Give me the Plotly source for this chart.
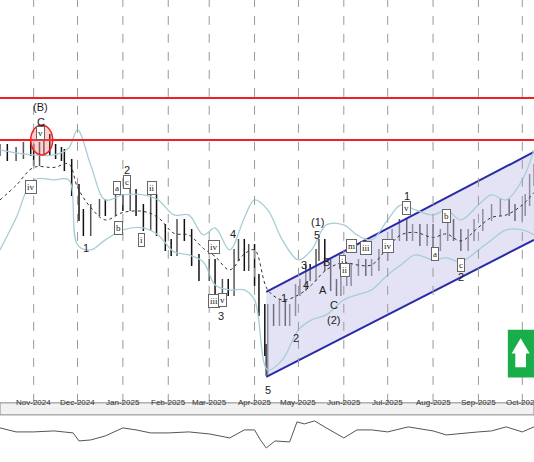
import plotly.graph_objects as go
import pandas as pd

# price path (value = chart units)
dates = ["2024-10-09","2024-10-14","2024-10-20","2024-10-25","2024-10-30","2024-11-01","2024-11-05","2024-11-08","2024-11-12","2024-11-16","2024-11-20","2024-11-22","2024-11-27","2024-12-02","2024-12-05","2024-12-10","2024-12-16","2024-12-20","2024-12-27","2025-01-01","2025-01-06","2025-01-10","2025-01-15","2025-01-20","2025-01-24","2025-01-30","2025-02-03","2025-02-07","2025-02-12","2025-02-17","2025-02-22","2025-03-01","2025-03-05","2025-03-10","2025-03-14","2025-03-18","2025-03-21","2025-03-25","2025-03-28","2025-04-01","2025-04-04","2025-04-08","2025-04-09","2025-04-10","2025-04-14","2025-04-18","2025-04-22","2025-04-25","2025-04-29","2025-05-02","2025-05-06","2025-05-09","2025-05-13","2025-05-15","2025-05-19","2025-05-23","2025-05-27","2025-05-30","2025-06-03","2025-06-06","2025-06-11","2025-06-16","2025-06-20","2025-06-25","2025-07-01","2025-07-04","2025-07-09","2025-07-14","2025-07-18","2025-07-23","2025-07-28","2025-08-01","2025-08-06","2025-08-11","2025-08-15","2025-08-20","2025-08-25","2025-08-29","2025-09-04","2025-09-10","2025-09-16","2025-09-22","2025-09-26","2025-10-01","2025-10-03","2025-10-06","2025-10-09"]
close = [253,248,250,255,253,243,255,263,253,250,248,238,213,188,173,193,198,193,203,198,208,193,178,203,173,158,153,178,168,143,128,138,103,118,113,148,158,138,153,123,93,53,33,93,83,98,83,93,113,118,133,128,148,158,138,118,113,123,123,133,138,133,138,148,158,168,178,168,173,163,173,158,168,178,168,158,168,178,188,193,198,193,188,193,203,223,233]

band_dates = ["2024-10-09","2024-10-20","2024-11-01","2024-11-15","2024-11-25","2024-12-01","2024-12-10","2024-12-20","2025-01-01","2025-01-15","2025-01-25","2025-02-05","2025-02-15","2025-02-25","2025-03-05","2025-03-15","2025-03-25","2025-04-01","2025-04-10","2025-04-20","2025-05-01","2025-05-10","2025-05-20","2025-06-01","2025-06-10","2025-06-20","2025-07-01","2025-07-10","2025-07-20","2025-08-01","2025-08-10","2025-08-20","2025-09-01","2025-09-10","2025-09-20","2025-10-01","2025-10-09"]
upper = [253,250,248,248,255,273,238,203,208,208,203,188,188,168,175,153,185,203,193,163,143,153,178,178,168,163,183,198,193,188,193,183,198,208,203,223,253]
lower = [153,185,223,223,223,158,153,163,173,175,168,151,148,141,118,113,113,103,33,43,73,83,88,103,108,113,128,138,148,143,145,141,153,163,173,173,168]
middle = [(u + l) / 2 for u, l in zip(upper, lower)]

ind_dates = ["2024-10-09","2024-10-20","2024-11-01","2024-11-15","2024-11-28","2024-12-02","2024-12-10","2024-12-20","2025-01-01","2025-01-10","2025-01-20","2025-02-01","2025-02-15","2025-03-01","2025-03-15","2025-03-25","2025-04-01","2025-04-05","2025-04-09","2025-04-15","2025-04-25","2025-04-30","2025-05-05","2025-05-12","2025-05-20","2025-06-01","2025-06-10","2025-06-20","2025-07-01","2025-07-15","2025-08-01","2025-08-10","2025-09-01","2025-09-10","2025-09-20","2025-10-01","2025-10-09"]
ind = [34,30,30,31,29,21,22,26,34,32,29,29,30,28,24,32,32,22,14,21,20,40,38,41,34,24,32,32,30,35,31,27,30,31,35,30,35]

months = ["2024-11-01","2024-12-01","2025-01-01","2025-02-01","2025-03-01","2025-04-01","2025-05-01","2025-06-01","2025-07-01","2025-08-01","2025-09-01","2025-10-01"]
month_labels = ["Nov-2024","Dec-2024","Jan-2025","Feb-2025","Mar-2025","Apr-2025","May-2025","Jun-2025","Jul-2025","Aug-2025","Sep-2025","Oct-2025"]

resist = [305, 263]
chan_x = ["2025-04-09", "2025-10-09"]
chan_up = [111, 251]
chan_lo = [26, 163]

wave_labels = [("(B)","2024-11-06",296,False),("C","2024-11-06",281,False),("v","2024-11-06",270,True),
    ("iv","2024-10-30",216,True),("1","2024-12-07",155,False),("a","2024-12-28",215,True),("2","2025-01-04",233,False),
    ("c","2025-01-04",221,True),("b","2024-12-29",175,True),("ii","2025-01-21",215,True),("i","2025-01-14",163,True),
    ("iv","2025-03-04",156,True),("4","2025-03-17",169,False),("iii","2025-03-04",102,True),("v","2025-03-10",103,True),
    ("3","2025-03-09",87,False),("(1)","2025-05-14",181,False),("5","2025-05-14",168,False),("3","2025-05-05",138,False),
    ("B","2025-05-20",141,False),("4","2025-05-06",118,False),("1","2025-04-21",105,False),("2","2025-04-29",65,False),
    ("A","2025-05-18",113,False),("C","2025-05-25",98,False),("(2)","2025-05-25",83,False),("i","2025-05-31",141,True),
    ("m","2025-06-06",157,True),("ii","2025-06-02",133,True),("iii","2025-06-16",155,True),("iv","2025-07-01",157,True),
    ("5","2025-04-10",13,False),("1","2025-07-14",207,False),("v","2025-07-14",195,True),("b","2025-08-10",187,True),
    ("a","2025-08-02",149,True),("c","2025-08-20",138,True),("2","2025-08-20",126,False)]

fig = go.Figure()
opens = [close[0]] + close[:-1]
highs = [max(o, c) + 6 for o, c in zip(opens, close)]
lows = [min(o, c) - 6 for o, c in zip(opens, close)]
fig.add_trace(go.Scatter(x=chan_x + chan_x[::-1], y=chan_up + chan_lo[::-1], fill="toself", mode="lines",
    fillcolor="rgba(200,200,235,0.5)", line=dict(width=0), hoverinfo="skip"))
fig.add_trace(go.Scatter(x=chan_x, y=chan_up, mode="lines", line=dict(color="#2a2aa8", width=2)))
fig.add_trace(go.Scatter(x=chan_x, y=chan_lo, mode="lines", line=dict(color="#2a2aa8", width=2)))
fig.add_trace(go.Scatter(x=band_dates, y=upper, mode="lines", line=dict(color="#a9cdd6", width=1.3, shape="spline")))
fig.add_trace(go.Scatter(x=band_dates, y=lower, mode="lines", line=dict(color="#a9cdd6", width=1.3, shape="spline")))
fig.add_trace(go.Scatter(x=band_dates, y=middle, mode="lines", line=dict(color="#333", width=1, dash="dot", shape="spline")))
fig.add_trace(go.Ohlc(x=dates, open=opens, high=highs, low=lows, close=close,
    increasing_line_color="#555", decreasing_line_color="#111", line_width=1.5))
fig.add_trace(go.Scatter(x=ind_dates, y=ind, mode="lines", line=dict(color="#555", width=1), xaxis="x", yaxis="y2"))

for r in resist:
    fig.add_hline(y=r, line=dict(color="#ee2222", width=2))
for m in months:
    fig.add_vline(x=m, line=dict(color="#999", width=1, dash="dash"))

fig.add_shape(type="circle", xref="x", yref="y", x0="2024-10-30", x1="2024-11-14", y0=248, y1=278,
    line=dict(color="#ee2222", width=1.5), fillcolor="rgba(255,100,100,0.3)")

for t, x, y, circ in wave_labels:
    fig.add_annotation(x=x, y=y, text=t, showarrow=False,
        font=dict(family="Liberation Serif" if circ else "Liberation Sans", size=9 if circ else 11, color="#222"),
        bordercolor="#666" if circ else None, borderwidth=1 if circ else 0, borderpad=1,
        bgcolor="white" if circ else None)

for m, lab in zip(months, month_labels):
    fig.add_annotation(x=m, y=0.115, yref="paper", text=lab, showarrow=False, font=dict(family="Liberation Sans", size=8, color="#333"))

fig.add_shape(type="rect", xref="paper", yref="paper", x0=0, x1=1, y0=0.102, y1=0.128, fillcolor="#f2f2f2",
    line=dict(color="#888", width=1), layer="below")
fig.add_shape(type="rect", xref="paper", yref="paper", x0=0.951, x1=1.0, y0=0.183, y1=0.286,
    fillcolor="#1aae4a", line=dict(width=0))
fig.add_shape(type="path", xref="paper", yref="paper",
    path="M 0.965 0.205 L 0.965 0.235 L 0.958 0.235 L 0.975 0.268 L 0.992 0.235 L 0.985 0.235 L 0.985 0.205 Z",
    fillcolor="white", line=dict(width=0))

fig.update_layout(width=534, height=462, margin=dict(l=0, r=0, t=0, b=0), showlegend=False,
    paper_bgcolor="white", plot_bgcolor="white",
    xaxis=dict(range=["2024-10-09", "2025-10-09"], showticklabels=False, showgrid=False, rangeslider=dict(visible=False), zeroline=False),
    yaxis=dict(domain=[0.128, 1], range=[0, 403], showticklabels=False, showgrid=False, zeroline=False),
    yaxis2=dict(domain=[0, 0.102], range=[0, 47], showticklabels=False, showgrid=False, zeroline=False, anchor="x"))
fig.write_html("out.html", config={"displayModeBar": False},
    post_script="document.body.style.margin='0';document.body.style.overflow='hidden';")
